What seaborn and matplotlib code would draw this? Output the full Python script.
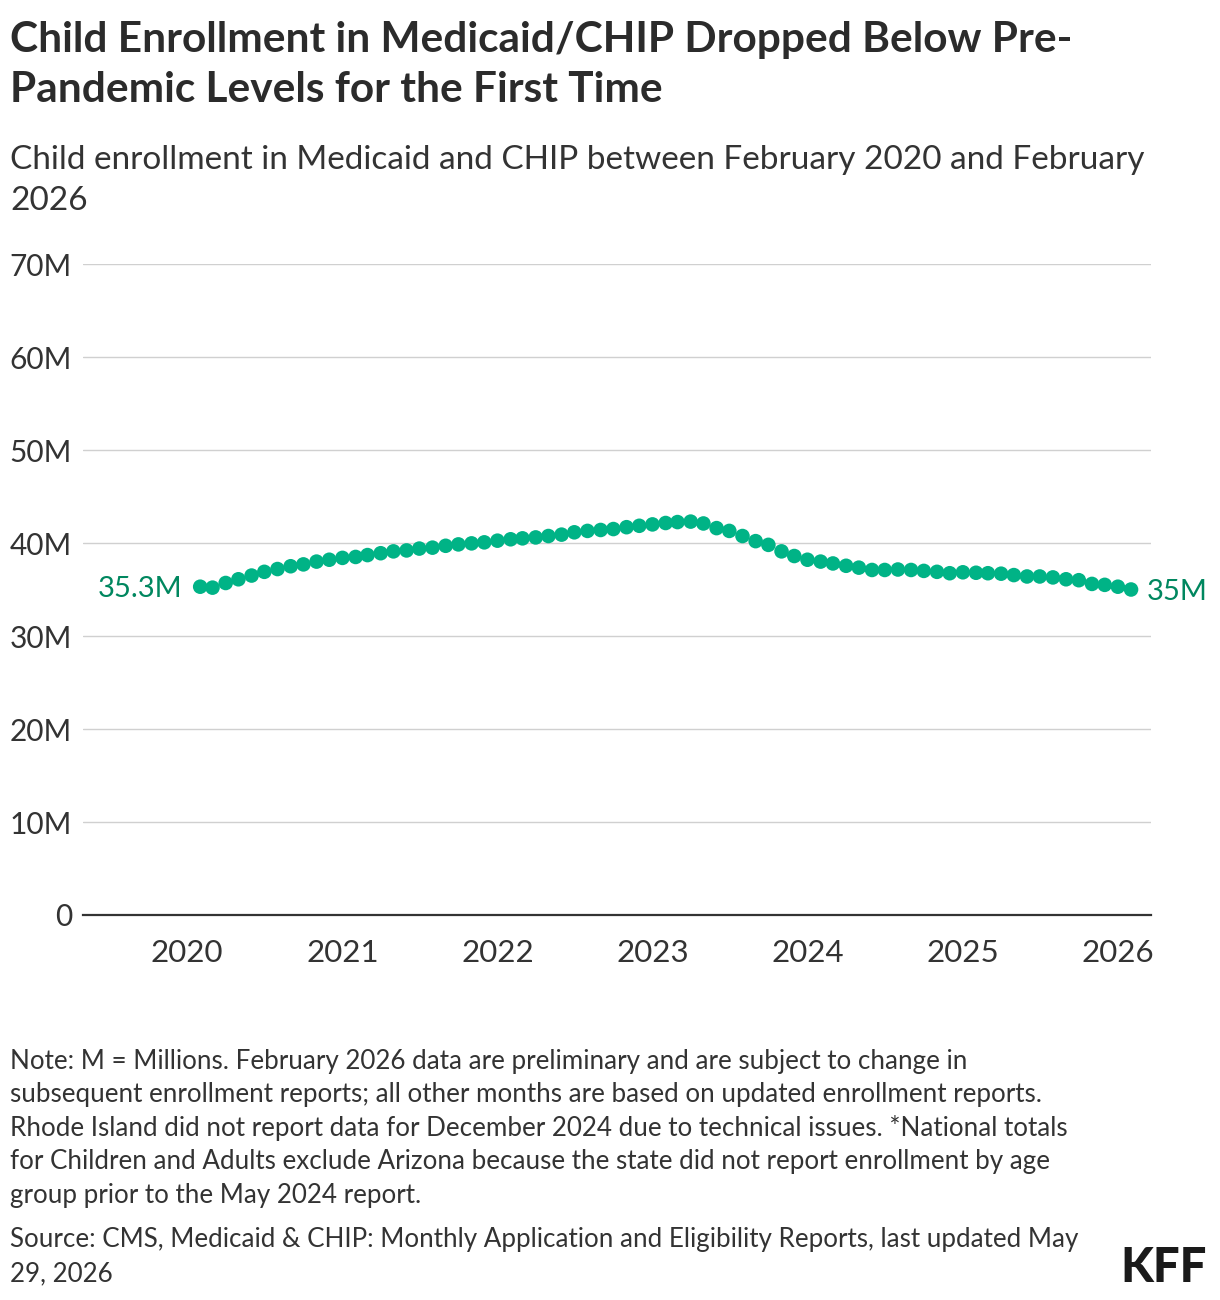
import pandas as pd
import matplotlib.pyplot as plt
import seaborn as sns

# Monthly child enrollment (millions), Feb 2020 - Feb 2026
enrollment = [35.3, 35.2, 35.7, 36.1, 36.5, 36.9, 37.2, 37.5, 37.7, 38.0, 38.2, 38.4,
              38.5, 38.7, 38.9, 39.1, 39.2, 39.4, 39.5, 39.7, 39.85, 39.96, 40.07, 40.25,
              40.4, 40.5, 40.6, 40.75, 40.9, 41.15, 41.3, 41.4, 41.5, 41.7, 41.85, 42.0,
              42.15, 42.25, 42.3, 42.1, 41.6, 41.3, 40.75, 40.2, 39.8, 39.1, 38.6, 38.2,
              38.0, 37.8, 37.55, 37.35, 37.1, 37.1, 37.15, 37.1, 37.0, 36.9, 36.75, 36.85,
              36.8, 36.75, 36.7, 36.55, 36.4, 36.4, 36.3, 36.1, 36.0, 35.6, 35.5, 35.3, 35.0]
months = pd.date_range("2020-02-01", periods=len(enrollment), freq="MS")
years = [2020, 2021, 2022, 2023, 2024, 2025, 2026]
y_ticks = [0, 10, 20, 30, 40, 50, 60, 70]
y_labels = ["0", "10M", "20M", "30M", "40M", "50M", "60M", "70M"]
first_label = "35.3M"
last_label = "35M"

title_lines = ["Child Enrollment in Medicaid/CHIP Dropped Below Pre-",
               "Pandemic Levels for the First Time"]
subtitle_lines = ["Child enrollment in Medicaid and CHIP between February 2020 and February",
                  "2026"]
note_lines = ["Note: M = Millions. February 2026 data are preliminary and are subject to change in",
              "subsequent enrollment reports; all other months are based on updated enrollment reports.",
              "Rhode Island did not report data for December 2024 due to technical issues. *National totals",
              "for Children and Adults exclude Arizona because the state did not report enrollment by age",
              "group prior to the May 2024 report."]
source_lines = ["Source: CMS, Medicaid & CHIP: Monthly Application and Eligibility Reports, last updated May",
                "29, 2026"]

df = pd.DataFrame({"month": months, "enrollment": enrollment})

sns.set_theme(style="white")
plt.rcParams["font.family"] = ["Lato", "DejaVu Sans"]

W, H = 1220, 1300
fig = plt.figure(figsize=(W / 100, H / 100), dpi=100)
ax = fig.add_axes([83 / W, 1 - 915 / H, (1151 - 83) / W, (915 - 264) / H])

dot = "#00b386"
lab = "#00875f"
txt = "#333333"

sns.scatterplot(data=df, x="month", y="enrollment", ax=ax, color=dot, s=110,
                edgecolor="none", zorder=3, legend=False)

ax.set_ylim(0, 70)
x0 = pd.Timestamp("2020-01-01") - pd.Timedelta(days=245)
x1 = pd.Timestamp("2026-01-01") + pd.Timedelta(days=78)
ax.set_xlim(x0, x1)
ax.set_yticks(y_ticks)
ax.set_yticklabels(y_labels)
ax.set_xticks([pd.Timestamp(f"{y}-01-01") for y in years])
ax.set_xticklabels([str(y) for y in years])
ax.grid(axis="y", color="#d0d0d0", linewidth=1)
ax.grid(axis="x", visible=False)
ax.set_axisbelow(True)
for s in ["left", "right", "top"]:
    ax.spines[s].set_visible(False)
ax.spines["bottom"].set_color(txt)
ax.spines["bottom"].set_linewidth(1.6)
ax.tick_params(axis="y", length=0, pad=8, labelsize=21.5, labelcolor=txt)
ax.tick_params(axis="x", length=0, pad=17, labelsize=22.5, labelcolor=txt)
for t in ax.get_yticklabels():
    t.set_verticalalignment("center_baseline")
ax.set_xlabel("")
ax.set_ylabel("")

ax.annotate(first_label, (df["month"].iloc[0], df["enrollment"].iloc[0]),
            xytext=(-13, 0), textcoords="offset points", ha="right", va="center_baseline",
            fontsize=21, color=lab)
ax.annotate(last_label, (df["month"].iloc[-1], df["enrollment"].iloc[-1]),
            xytext=(11, 0), textcoords="offset points", ha="left", va="center_baseline",
            fontsize=21, color=lab, annotation_clip=False)


def put(lines, y_first, step, size, weight="normal", color=txt):
    for i, line in enumerate(lines):
        fig.text(10 / W, 1 - (y_first + i * step) / H, line, ha="left", va="center",
                 fontsize=size, fontweight=weight, color=color)


put(title_lines, 40, 50, 30.5, weight="bold", color="#2b2b2b")
put(subtitle_lines, 160, 41, 24)
put(note_lines, 1061, 33.5, 18.7)
put(source_lines, 1240, 33.5, 18.7)
fig.text(1207 / W, 1 - 1268 / H, "KFF", ha="right", va="center", fontsize=34,
         fontweight="black", color="#1a1a1a")

fig.savefig("out.png", dpi=100)
